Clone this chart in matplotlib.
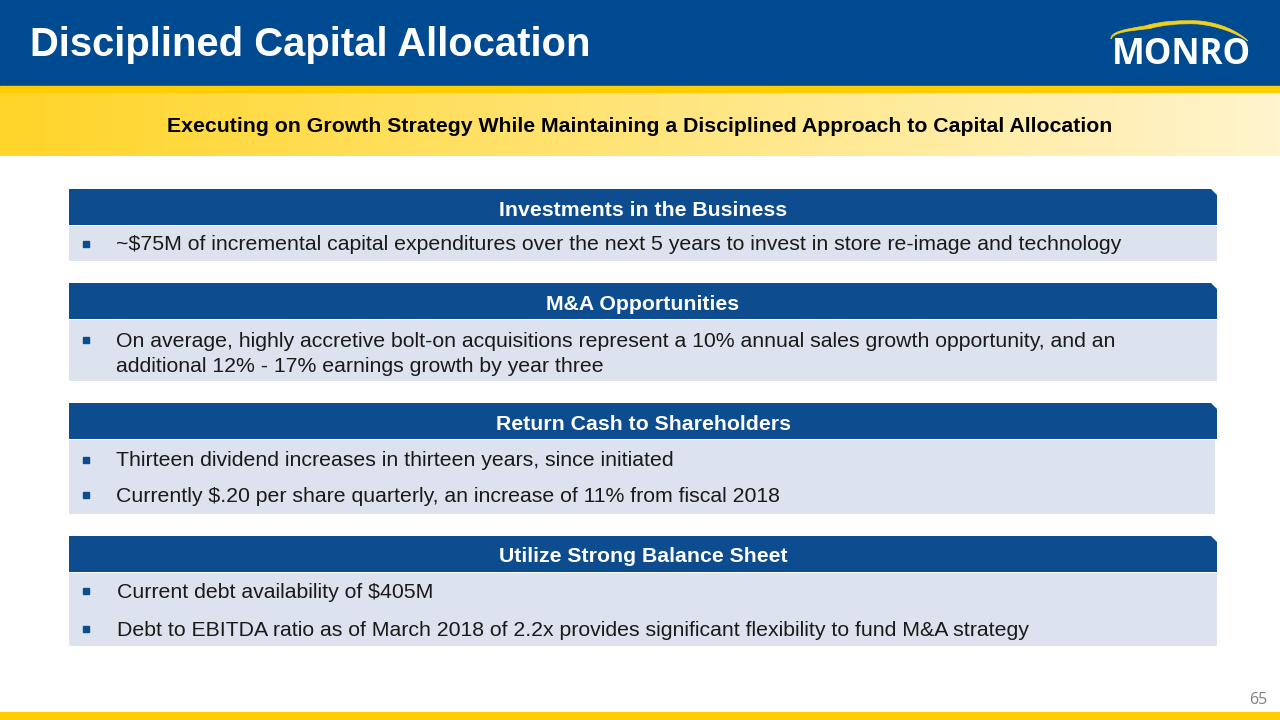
import matplotlib
matplotlib.use("Agg")
import matplotlib.pyplot as plt
import numpy as np
from matplotlib.patches import Rectangle, Polygon, PathPatch
from matplotlib.path import Path

plt.rcParams['font.family'] = ['Liberation Sans', 'DejaVu Sans']

title = "Disciplined Capital Allocation"
subtitle = "Executing on Growth Strategy While Maintaining a Disciplined Approach to Capital Allocation"
section_titles = ["Investments in the Business", "M&A Opportunities",
                  "Return Cash to Shareholders", "Utilize Strong Balance Sheet"]
section_bullets = [
    ["~$75M of incremental capital expenditures over the next 5 years to invest in store re-image and technology"],
    ["On average, highly accretive bolt-on acquisitions represent a 10% annual sales growth opportunity, and an\nadditional 12% - 17% earnings growth by year three"],
    ["Thirteen dividend increases in thirteen years, since initiated",
     "Currently $.20 per share quarterly, an increase of 11% from fiscal 2018"],
    ["Current debt availability of $405M",
     "Debt to EBITDA ratio as of March 2018 of 2.2x provides significant flexibility to fund M&A strategy"],
]
page_number = "65"

# layout (pixel coordinates)
sec_tops = [189, 283, 403, 536]
sec_body_h = [36, 62, 75, 74]
bullet_y = [[245], [354], [461, 496], [592, 630]]
text_x = [116, 116, 116, 117]

NAVY = "#004A91"
HDR = "#0D4C8F"
BODY = "#DCE3EE"

fig = plt.figure(figsize=(12.8, 7.2), dpi=100)
ax = fig.add_axes([0, 0, 1, 1])

# top banner
ax.add_patch(Rectangle((0, 0), 1280, 86, color=NAVY, zorder=1))
ax.add_patch(Rectangle((0, 86), 1280, 7, color="#FFCD00", zorder=1))
# gradient band
c1 = np.array([255, 213, 40]) / 255
c2 = np.array([255, 244, 205]) / 255
t = np.linspace(0, 1, 256)
grad = (c1[None, :] * (1 - t[:, None]) + c2[None, :] * t[:, None])[None, :, :]
ax.imshow(grad, extent=(0, 1280, 156, 93), aspect="auto", zorder=1)
ax.set_xlim(0, 1280)
ax.set_ylim(720, 0)
ax.axis("off")

ax.text(30, 45, title, color="white", fontsize=28.8, fontweight="bold",
        va="center", ha="left", zorder=3)
ax.text(640, 126, subtitle, color="black", fontsize=15.3, fontweight="bold",
        va="center", ha="center", zorder=3)

# logo
ax.text(1181, 55, "MONRO", color="white", fontsize=25, fontweight="bold",
        family=["Open Sans", "DejaVu Sans"], va="center", ha="center", zorder=3)
verts = [(1111, 39), (1110, 32), (1125, 29), (1145, 26),
         (1160, 21), (1185, 20), (1200, 21),
         (1220, 23), (1238, 31), (1248, 41),
         (1236, 33), (1218, 26), (1198, 24),
         (1180, 23), (1162, 25), (1150, 28.5),
         (1128, 31), (1114, 32), (1111, 39)]
codes = [Path.MOVETO] + [Path.CURVE4] * 18
ax.add_patch(PathPatch(Path(verts, codes), facecolor="#F2D01C", edgecolor="#F2D01C",
                       linewidth=0.5, zorder=3))

# sections
x0, x1 = 69, 1217
for i, name in enumerate(section_titles):
    top = sec_tops[i]
    hh = 36
    ax.add_patch(Polygon([(x0, top), (x1 - 6, top), (x1, top + 6), (x1, top + hh), (x0, top + hh)],
                         closed=True, facecolor=HDR, edgecolor="none", zorder=2))
    ax.text((x0 + x1) / 2, top + hh / 2 + 3, name, color="white", fontsize=15.3,
            fontweight="bold", va="center", ha="center", zorder=3)
    bx1 = x1 - 2 if i == 2 else x1
    ax.add_patch(Rectangle((x0, top + hh + 1), bx1 - x0, sec_body_h[i] - 1,
                           facecolor=BODY, edgecolor="none", zorder=2))
    for j, b in enumerate(section_bullets[i]):
        y = bullet_y[i][j]
        by = y - 14 if "\n" in b else y - 1
        ax.add_patch(Rectangle((83, by - 3), 6, 6, color=HDR, zorder=3))
        ax.text(text_x[i], y, b, color="#1a1a1a", fontsize=15.3, va="center", ha="left",
                linespacing=1.4, zorder=3)

# footer
ax.add_patch(Rectangle((0, 712), 1280, 8, color="#FFCD00", zorder=2))
ax.text(1267, 700, page_number, color="#808080", fontsize=11.5, ha="right", va="center",
        family=["Open Sans", "DejaVu Sans"], zorder=3)

fig.savefig("out.png", dpi=100)
